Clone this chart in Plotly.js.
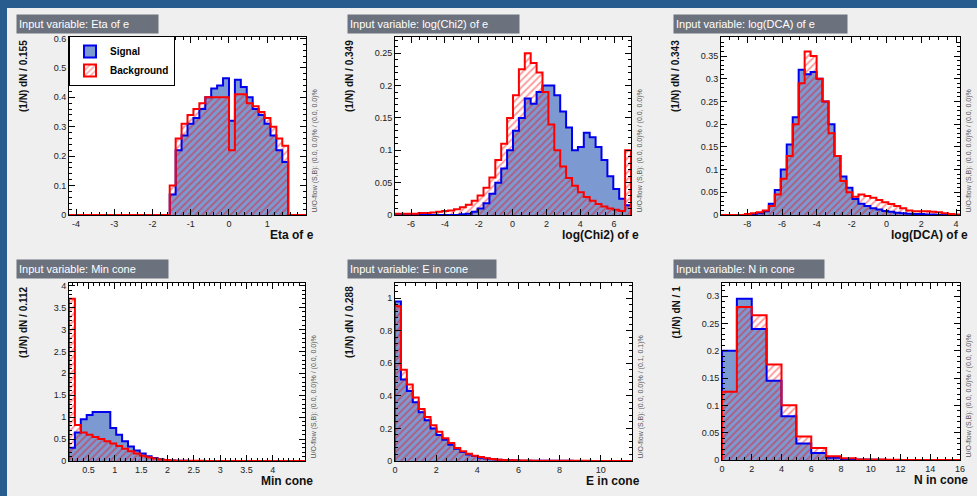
<!DOCTYPE html>
<html><head><meta charset="utf-8">
<script src="https://cdn.plot.ly/plotly-3.0.1.min.js"></script>
<style>html,body{margin:0;padding:0;background:#efefef}#chart{width:977px;height:496px}</style>
</head><body><div id="chart"></div>
<script>
// ---- data (1/N dN per bin) ----
const etaSig = [0,0,0,0,0,0,0,0,0,0,0,0,0,0,0,0,0,
  0.07,0.22,0.27,0.31,0.33,0.36,0.40,0.43,0.44,0.465,0.32,0.46,0.435,0.40,0.36,0.34,0.31,0.27,0.22,0.18,
  0,0,0];
const etaBkg = [0,0,0,0,0,0,0,0,0,0,0,0,0,0,0,0,0,
  0.10,0.26,0.31,0.34,0.36,0.38,0.40,0.40,0.40,0.40,0.22,0.41,0.41,0.38,0.37,0.35,0.33,0.30,0.26,0.235,
  0,0,0];
const chi2Sig = [0,0,0,0,0,0,0,0,0,0,
  0,0.001,0.002,0.005,0.01,0.018,0.033,0.05,0.072,0.1,
  0.13,0.15,0.18,0.172,0.19,0.2,0.2,0.185,0.16,0.135,
  0.1,0.105,0.127,0.12,0.105,0.085,0.06,0.04,0.025,0.015];
const chi2Bkg = [0.002,0.002,0.002,0.002,0.003,0.003,0.004,0.005,0.006,0.007,
  0.009,0.012,0.016,0.022,0.03,0.042,0.058,0.085,0.11,0.15,
  0.185,0.225,0.25,0.235,0.22,0.19,0.14,0.1,0.075,0.057,
  0.045,0.035,0.028,0.022,0.017,0.013,0.01,0.008,0.006,0.1];
const dcaSig = [0,0,0,0,0,0.002,0.004,0.008,0.025,0.055,
  0.1,0.155,0.215,0.32,0.31,0.315,0.3,0.25,0.2,0.13,
  0.085,0.06,0.035,0.025,0.02,0.015,0.012,0.009,0.007,0.005,
  0.004,0.003,0.002,0.002,0.001,0.001,0,0,0,0];
const dcaBkg = [0,0,0,0,0.002,0.004,0.006,0.01,0.02,0.045,
  0.08,0.13,0.2,0.29,0.36,0.35,0.3,0.25,0.18,0.13,
  0.075,0.05,0.04,0.045,0.042,0.038,0.033,0.028,0.024,0.02,
  0.015,0.01,0.008,0.008,0.008,0.007,0.006,0.004,0.002,0.001];
const minSig = [0.3,0.65,0.95,1.05,1.12,1.12,1.12,0.75,0.6,0.45,
  0.33,0.24,0.17,0.11,0.07,0.04,0.02,0.01,0.005,0.003,
  0.002,0.002,0.001,0.001,0.001,0,0,0,0,0,
  0,0,0,0,0,0,0,0,0,0];
const minBkg = [3.7,0.82,0.65,0.6,0.55,0.5,0.45,0.4,0.34,0.28,
  0.22,0.17,0.12,0.085,0.055,0.035,0.02,0.012,0.008,0.005,
  0.004,0.003,0.003,0.002,0.002,0.002,0.002,0.002,0.001,0.001,
  0.001,0.001,0.001,0.001,0,0,0,0,0,0];
const eSig = [0.98,0.5,0.43,0.36,0.3,0.25,0.2,0.16,0.13,0.1,
  0.075,0.055,0.04,0.03,0.02,0.015,0.01,0.007,0.005,0.004,
  0.003,0.002,0.002,0.002,0.001,0.001,0.001,0.001,0.001,0.001,
  0,0,0,0,0,0,0,0,0,0];
const eBkg = [0.95,0.56,0.47,0.39,0.32,0.27,0.22,0.18,0.14,0.11,
  0.08,0.06,0.045,0.033,0.024,0.017,0.012,0.008,0.006,0.005,
  0.004,0.003,0.003,0.002,0.002,0.002,0.001,0.001,0.001,0.001,
  0.001,0.001,0.001,0,0,0,0,0,0,0];
const nSig = [0.2,0.295,0.24,0.145,0.08,0.03,0.013,0.004,0.002,0.001,0.0005,0,0,0,0,0];
const nBkg = [0.125,0.28,0.265,0.175,0.1,0.043,0.022,0.007,0.003,0.001,0.001,0.0005,0,0,0,0];

const etaTicks = [-4,-3,-2,-1,0,1];
const chi2Ticks = [-6,-4,-2,0,2,4,6];
const dcaTicks = [-8,-6,-4,-2,0,2,4];
const minTicks = [0.5,1,1.5,2,2.5,3,3.5,4];
const eTicks = [0,2,4,6,8,10];
const nTicks = [0,2,4,6,8,10,12,14,16];

const titles = ['Eta of e','log(Chi2) of e','log(DCA) of e','Min cone','E in cone','N in cone'];
const yTitles = ['(1/N) dN / 0.155','(1/N) dN / 0.349','(1/N) dN / 0.343','(1/N) dN / 0.112','(1/N) dN / 0.288','(1/N) dN / 1'];
const flowTexts = [
 'U/O-flow (S,B): (0.0, 0.0)% / (0.0, 0.0)%',
 'U/O-flow (S,B): (0.0, 0.0)% / (0.0, 0.0)%',
 'U/O-flow (S,B): (0.0, 0.0)% / (0.0, 0.0)%',
 'U/O-flow (S,B): (0.0, 0.0)% / (0.0, 0.0)%',
 'U/O-flow (S,B): (0.0, 0.0)% / (0.1, 0.1)%',
 'U/O-flow (S,B): (0.0, 0.0)% / (0.0, 0.0)%'];

// ---- layout / style ----
const W = 977, H = 496;
const FONT = 'Liberation Sans, Arial, sans-serif';
const SIGFILL = '#7d99d1', SIGLINE = '#0000ee', BKGLINE = '#ff0000';
const panels = [
 {sig:etaSig, bkg:etaBkg, xr:[-4.185,2.015], xt:etaTicks, xm:0.2, yr:0.605, ydt:0.1, ym:0.02, box:[69,306,37,215], tb:[16,157,14,32]},
 {sig:chi2Sig, bkg:chi2Bkg, xr:[-6.95,7.0], xt:chi2Ticks, xm:0.5, yr:0.275, ydt:0.05, ym:0.01, box:[395,631,37,215], tb:[347,518,14,32]},
 {sig:dcaSig, bkg:dcaBkg, xr:[-9.51,4.23], xt:dcaTicks, xm:0.5, yr:0.392, ydt:0.05, ym:0.01, box:[721,960,37,215], tb:[673,846,14,32]},
 {sig:minSig, bkg:minBkg, xr:[0.13,4.61], xt:minTicks, xm:0.1, yr:4.06, ydt:0.5, ym:0.1, box:[69,305,283,461], tb:[16,167,259,277]},
 {sig:eSig, bkg:eBkg, xr:[0,11.52], xt:eTicks, xm:0.5, yr:1.093, ydt:0.2, ym:0.04, box:[395,632,283,461], tb:[347,495,259,277]},
 {sig:nSig, bkg:nBkg, xr:[0,16], xt:nTicks, xm:0.5, yr:0.324, ydt:0.05, ym:0.01, box:[722,960,283,460], tb:[673,823,259,277]}
];

const traces = [];
const layout = {
  width: W, height: H, autosize: false,
  margin: {l:0, r:0, t:0, b:0},
  paper_bgcolor: '#efefef', plot_bgcolor: '#ffffff',
  barmode: 'overlay', bargap: 0,
  showlegend: true,
  legend: {x:69/W, y:1-36/H, xanchor:'left', yanchor:'top', bgcolor:'#ffffff', bordercolor:'#000000', borderwidth:1,
           font:{family:FONT, size:10, color:'#000', weight:'bold'}, tracegroupgap:0, itemwidth:30},
  annotations: [],
  shapes: [
    {type:'rect', xref:'paper', yref:'paper', x0:0, x1:1, y0:1-8/H, y1:1, fillcolor:'#285b8e', line:{width:0}, layer:'below'},
    {type:'rect', xref:'paper', yref:'paper', x0:0, x1:7/W, y0:0, y1:1, fillcolor:'#285b8e', line:{width:0}, layer:'below'}
  ]
};

const bkgPattern = {shape:'/', fgcolor:'rgba(255,0,0,0.8)', size:5, solidity:0.35, fillmode:'overlay'};

panels.forEach((p, i) => {
  const s = i === 0 ? '' : String(i + 1);
  const n = p.sig.length;
  const w = (p.xr[1] - p.xr[0]) / n;
  const centers = p.sig.map((_, k) => p.xr[0] + (k + 0.5) * w);
  const edges = p.sig.map((_, k) => p.xr[0] + k * w);
  const stepX = [p.xr[0]].concat(edges, [p.xr[1], p.xr[1]]);
  const stepY = (v) => [0].concat(v, [v[n-1], 0]);
  traces.push({type:'bar', x:centers, y:p.sig, width:w, xaxis:'x'+s, yaxis:'y'+s, showlegend:false, hoverinfo:'skip',
               marker:{color:SIGFILL, line:{width:0}}});
  traces.push({type:'bar', x:centers, y:p.bkg, width:w, xaxis:'x'+s, yaxis:'y'+s, showlegend:false, hoverinfo:'skip',
               marker:{color:'rgba(255,255,255,0)', line:{width:0}, pattern:bkgPattern}});
  traces.push({type:'scatter', mode:'lines', x:stepX, y:stepY(p.sig), xaxis:'x'+s, yaxis:'y'+s, showlegend:false, hoverinfo:'skip',
               line:{color:SIGLINE, width:2, shape:'hv'}});
  traces.push({type:'scatter', mode:'lines', x:stepX, y:stepY(p.bkg), xaxis:'x'+s, yaxis:'y'+s, showlegend:false, hoverinfo:'skip',
               line:{color:BKGLINE, width:2, shape:'hv'}});

  const [l, r, t, b] = p.box;
  const axCommon = {showline:true, mirror:'ticks', linecolor:'#000', linewidth:1, ticks:'inside', ticklen:6, tickwidth:1,
                    tickcolor:'#000', showgrid:false, zeroline:false, fixedrange:true,
                    tickfont:{family:FONT, size:9, color:'#222'}};
  layout['xaxis'+s] = Object.assign({}, axCommon, {
    domain:[l/W, r/W], range:p.xr, anchor:'y'+s,
    tickmode:'array', tickvals:p.xt, ticktext:p.xt.map(v => String(v)),
    minor:{tickmode:'linear', tick0:0, dtick:p.xm, ticks:'inside', ticklen:3, tickcolor:'#000', showgrid:false}
  });
  const yv = [];
  for (let k = 0; k * p.ydt <= p.yr + 1e-9; k++) yv.push(+(k * p.ydt).toFixed(3));
  layout['yaxis'+s] = Object.assign({}, axCommon, {
    domain:[1-b/H, 1-t/H], range:[0, p.yr], anchor:'x'+s,
    tickmode:'array', tickvals:yv, ticktext:yv.map(v => String(v)),
    minor:{tickmode:'linear', tick0:0, dtick:p.ym, ticks:'inside', ticklen:3, tickcolor:'#000', showgrid:false}
  });

  // title box
  const [tl, tr, tt, tbm] = p.tb;
  layout.annotations.push({xref:'paper', yref:'paper', x:tl/W, y:1-tt/H, xanchor:'left', yanchor:'top',
    text:'Input variable: ' + titles[i], showarrow:false, align:'left', bgcolor:'#6c727d', borderpad:2,
    width:tr-tl-4, height:tbm-tt-4, font:{family:FONT, size:11, color:'#ffffff'}});
  // x title
  layout.annotations.push({xref:'paper', yref:'paper', x:(r+10)/W, y:1-(b+20)/H, xanchor:'right', yanchor:'middle',
    text:titles[i], showarrow:false, font:{family:FONT, size:12, color:'#111', weight:'bold'}});
  // y title
  layout.annotations.push({xref:'paper', yref:'paper', x:(l-46)/W, y:1-(t+1)/H, xanchor:'center', yanchor:'top',
    text:yTitles[i], textangle:-90, showarrow:false, font:{family:FONT, size:10, color:'#111', weight:'bold'}});
  // under/overflow
  layout.annotations.push({xref:'paper', yref:'paper', x:(r+8)/W, y:1-b/H, xanchor:'center', yanchor:'bottom',
    text:flowTexts[i], textangle:-90, showarrow:false, font:{family:FONT, size:7, color:'#555'}});
});

// legend entries (first panel)
traces.push({type:'bar', x:[-100], y:[0], xaxis:'x', yaxis:'y', name:'Signal', hoverinfo:'skip',
             marker:{color:SIGFILL, line:{color:SIGLINE, width:2}}});
traces.push({type:'bar', x:[-100], y:[0], xaxis:'x', yaxis:'y', name:'Background', hoverinfo:'skip',
             marker:{color:'rgba(255,255,255,0)', line:{color:BKGLINE, width:2}, pattern:bkgPattern}});

Plotly.newPlot('chart', traces, layout, {staticPlot:true, displayModeBar:false});
</script>
</body></html>
